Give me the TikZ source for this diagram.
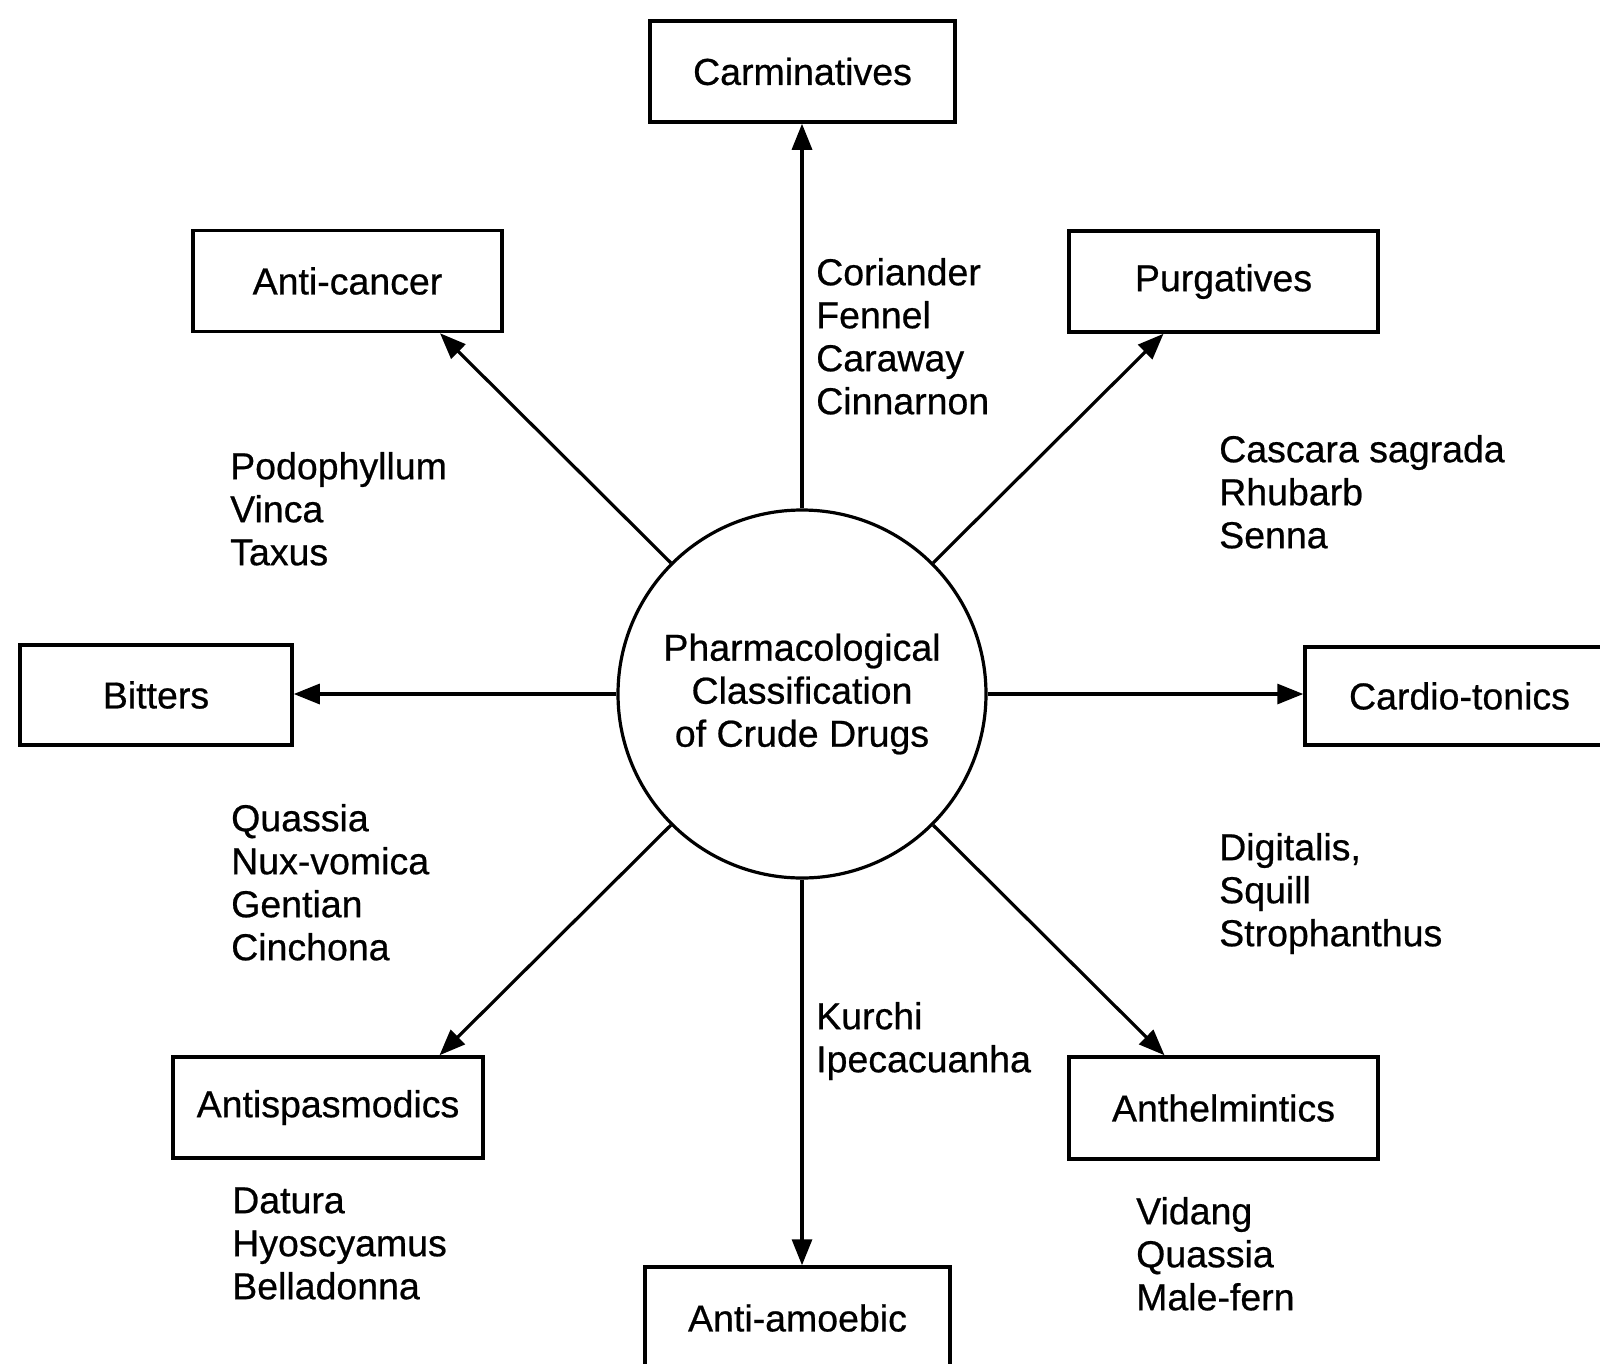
\documentclass[tikz,border=0pt]{standalone}
\usepackage{fontspec}
\setmainfont{Liberation Sans}[FakeBold=0.6]
\usetikzlibrary{arrows.meta,calc}
\begin{document}
\begin{tikzpicture}[x=1pt,y=-1pt,
  every node/.style={font=\fontsize{37.5}{43}\selectfont},
  catbox/.style={draw,line width=3.5pt,inner sep=0pt,minimum height=101pt},
  hub/.style={draw,circle,line width=3.2pt,minimum size=368pt,inner sep=0pt,align=center},
  drugs/.style={anchor=north west,align=left,inner sep=0pt},
  arr/.style={line width=3.2pt,-{Triangle[length=26pt,width=20pt]}}
]
\useasboundingbox (0,0) rectangle (1600,1363);
\clip (0,0) rectangle (1600,1363);
\fill[white] (0,0) rectangle (1600,1363);

\node[hub] (c) at (802,694) {Pharmacological\\Classification\\of Crude Drugs};

\node[catbox,minimum width=305pt] (carm) at (802.5,71.5) {Carminatives};
\node[catbox,minimum width=309pt] (ac) at (347.5,281) {Anti-cancer};
\node[catbox,minimum width=309pt] (purg) at (1223.5,281.5) {Purgatives};
\node[catbox,minimum width=272pt,minimum height=100pt] (bit) at (156,695) {Bitters};
\node[catbox,minimum width=309pt,minimum height=98pt] (card) at (1459.5,696) {Cardio-tonics};
\node[catbox,minimum width=310pt] (anti) at (328,1107.5) {Antispasmodics};
\node[catbox,minimum width=309pt,minimum height=102pt] (anth) at (1223.5,1108) {Anthelmintics};
\node[catbox,minimum width=305pt,minimum height=102pt] (amoe) at (797.5,1318) {Anti-amoebic};

\coordinate (tac) at ($(ac.south)+(92.5,0)$);
\coordinate (tpurg) at ($(purg.south)+(-60,0)$);
\coordinate (tanti) at ($(anti.north)+(111.5,0)$);
\coordinate (tanth) at ($(anth.north)+(-59,0)$);

\draw[arr] (c.north) -- (c.north |- carm.south);
\draw[arr] (c.south) -- (c.south |- amoe.north);
\draw[arr] (c.west) -- (c.west -| bit.east);
\draw[arr] (c.east) -- (c.east -| card.west);
\draw[arr] (c.135) -- (tac);
\draw[arr] (c.45) -- (tpurg);
\draw[arr] (c.225) -- (tanti);
\draw[arr] (c.-45) -- (tanth);

\node[drugs] (dcarm) at (816,255) {\rule{0pt}{30pt}Coriander\\Fennel\\Caraway\\Cinnarnon};
\node[drugs] (dac) at (230,449) {\rule{0pt}{30pt}Podophyllum\\Vinca\\Taxus};
\node[drugs] (dpurg) at (1219,432) {\rule{0pt}{30pt}Cascara sagrada\\Rhubarb\\Senna};
\node[drugs] (dbit) at (231,801) {\rule{0pt}{30pt}Quassia\\Nux-vomica\\Gentian\\Cinchona};
\node[drugs] (dcard) at (1219,830) {\rule{0pt}{30pt}Digitalis,\\Squill\\Strophanthus};
\node[drugs] (damoe) at (816,999) {\rule{0pt}{30pt}Kurchi\\Ipecacuanha};
\node[drugs] (danti) at (232,1183) {\rule{0pt}{30pt}Datura\\Hyoscyamus\\Belladonna};
\node[drugs] (danth) at (1136,1194) {\rule{0pt}{30pt}Vidang\\Quassia\\Male-fern};
\end{tikzpicture}
\end{document}
